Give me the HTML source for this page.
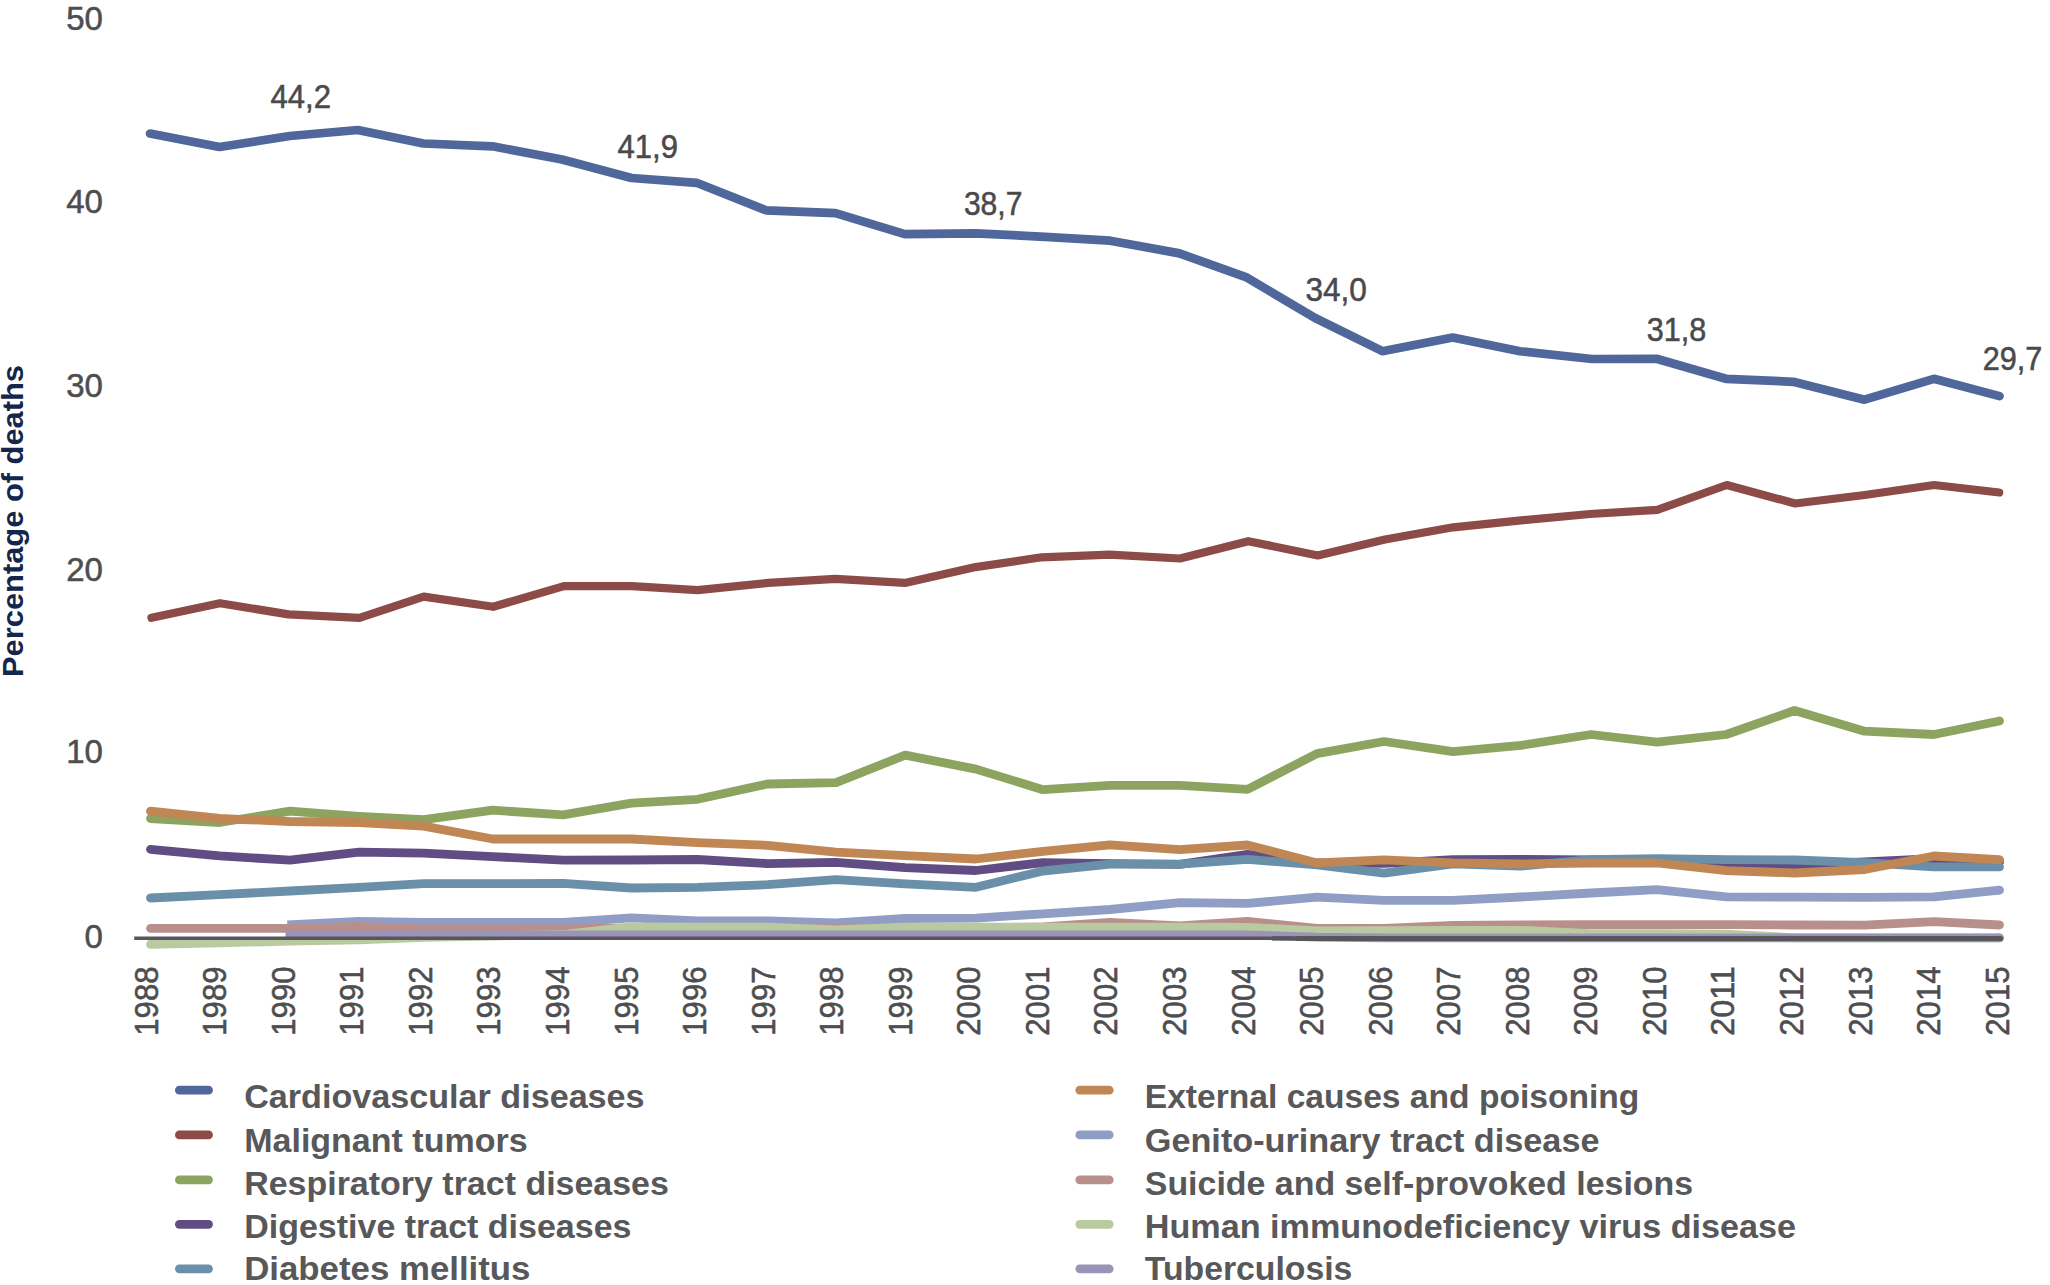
<!DOCTYPE html>
<html lang="en">
<head>
<meta charset="utf-8">
<title>Percentage of deaths by cause, 1988-2015</title>
<style>
html,body{margin:0;padding:0;background:#ffffff;}
body{width:2050px;height:1285px;overflow:hidden;}
svg{display:block;}
text{font-family:"Liberation Sans",sans-serif;}
.tick{font-size:33px;fill:#4e4e50;stroke:#4e4e50;stroke-width:0.55px;}
.xt{font-size:32.6px;fill:#4e4e50;stroke:#4e4e50;stroke-width:0.55px;}
.dl{font-size:32.5px;fill:#4a4a4c;stroke:#4a4a4c;stroke-width:0.55px;}
.leg{font-size:32.5px;font-weight:bold;fill:#58585a;}
.ytitle{font-size:30px;font-weight:bold;fill:#14264b;}
</style>
</head>
<body>
<svg width="2050" height="1285" viewBox="0 0 2050 1285">
<rect width="2050" height="1285" fill="#ffffff"/>

<g fill="none" stroke-linejoin="round">
<polyline stroke="#4f679b" stroke-width="8.7" stroke-linecap="round" points="150.0,133.5 219.5,147.0 289.7,136.0 357.8,130.0 423.5,143.5 492.3,146.3 562.0,159.5 631.5,178.0 696.6,182.8 766.0,210.3 835.5,213.1 904.8,234.2 976.0,233.3 1045.0,236.8 1110.2,240.7 1179.5,253.4 1245.9,277.1 1315.1,318.0 1382.4,351.2 1452.7,337.6 1520.0,351.2 1592.0,359.0 1656.6,358.8 1725.9,378.8 1793.3,381.8 1864.5,399.7 1933.9,378.8 1999.5,396.1"/>
<polyline stroke="#8c4b46" stroke-width="8.2" stroke-linecap="round" points="151.5,617.8 220.0,603.2 288.5,614.4 359.5,617.8 423.7,596.6 493.2,606.8 563.9,586.1 631.7,586.1 697.6,590.2 768.3,582.9 835.4,578.8 904.9,582.9 975.6,567.1 1041.5,557.3 1109.5,554.7 1180.0,558.5 1248.3,541.2 1317.8,555.4 1385.0,539.5 1453.2,527.3 1521.0,520.3 1590.2,514.0 1657.3,509.8 1726.8,485.0 1795.1,503.5 1864.8,495.0 1934.1,485.0 1999.2,492.5"/>
<polyline stroke="#8da461" stroke-width="8.8" stroke-linecap="round" points="150.5,818.5 219.7,822.5 290.0,811.2 359.0,816.3 423.6,819.7 492.8,810.2 563.0,814.9 631.5,803.2 697.5,799.3 767.5,784.0 836.0,782.7 905.2,755.1 976.0,769.1 1043.0,789.7 1110.0,785.4 1179.8,785.4 1247.5,789.3 1317.0,753.6 1384.0,741.5 1453.0,751.6 1520.8,745.4 1591.0,734.5 1657.0,742.1 1726.3,734.5 1794.5,710.5 1864.6,731.2 1934.0,734.5 1999.5,721.0"/>
<polyline stroke="#5f4d83" stroke-width="8.8" stroke-linecap="round" points="150.5,849.3 219.7,855.9 290.0,860.2 359.0,852.2 423.6,853.2 492.8,856.6 563.0,860.2 631.5,860.0 697.5,859.5 767.5,863.6 836.0,862.4 905.2,867.6 976.0,870.5 1043.0,862.6 1110.0,863.7 1179.8,864.3 1247.5,854.3 1317.0,863.0 1384.0,863.3 1453.0,859.6 1520.8,859.4 1591.0,860.0 1657.0,860.0 1726.3,864.0 1794.5,865.0 1864.6,862.0 1934.0,858.6 1999.5,862.0"/>
<polyline stroke="#6a8fa9" stroke-width="8.8" stroke-linecap="round" points="150.5,898.0 219.7,894.6 290.0,891.0 359.0,887.3 423.6,883.7 492.8,883.7 563.0,883.4 631.5,888.0 697.5,887.3 767.5,884.7 836.0,879.6 905.2,883.8 976.0,887.3 1043.0,871.0 1110.0,864.1 1179.8,864.1 1247.5,859.4 1317.0,864.9 1384.0,873.2 1453.0,863.9 1520.8,866.0 1591.0,859.7 1657.0,858.6 1726.3,859.7 1794.5,860.0 1864.6,862.6 1934.0,866.9 1999.5,866.9"/>
<polyline stroke="#c08653" stroke-width="8.8" stroke-linecap="round" points="150.5,811.2 219.7,818.5 290.0,821.5 359.0,822.5 423.6,826.2 492.8,839.0 563.0,839.0 631.5,839.0 697.5,842.6 767.5,845.3 836.0,852.2 905.2,855.6 976.0,859.0 1043.0,851.3 1110.0,844.8 1179.8,849.6 1247.5,845.0 1317.0,862.9 1384.0,859.8 1453.0,862.9 1520.8,864.0 1591.0,863.0 1657.0,863.0 1726.3,870.6 1794.5,873.0 1864.6,869.5 1934.0,856.0 1999.5,859.7"/>
<polyline stroke="#909ec5" stroke-width="8.8" stroke-linecap="butt" points="287.3,924.8 359.0,921.5 423.6,922.3 492.8,922.3 563.0,922.3 631.5,917.8 697.5,921.0 767.5,921.0 836.0,922.8 905.2,918.5 976.0,918.1 1043.0,913.8 1110.0,909.5 1179.8,902.7 1247.5,903.4 1317.0,897.2 1384.0,900.3 1453.0,900.3 1520.8,897.0 1591.0,893.0 1657.0,889.6 1726.3,896.8 1794.5,897.2 1864.6,897.4 1934.0,896.8 1999.5,890.2"/>
<circle cx="1999.5" cy="890.2" r="4.4" fill="#909ec5" stroke="none"/>
<polyline stroke="#b98f8c" stroke-width="8.8" stroke-linecap="round" points="150.5,928.3 219.7,928.3 290.0,928.3 359.0,926.5 423.6,928.8 492.8,928.8 563.0,928.8 631.5,928.0 697.5,928.0 767.5,928.0 836.0,928.0 905.2,928.0 976.0,928.0 1043.0,927.0 1110.0,922.5 1179.8,926.0 1247.5,921.5 1317.0,928.5 1384.0,928.5 1453.0,925.5 1520.8,924.8 1591.0,924.7 1657.0,924.7 1726.3,924.7 1794.5,925.0 1864.6,925.1 1934.0,921.6 1999.5,925.0"/>
<polyline stroke="#b9caa1" stroke-width="8.8" stroke-linecap="round" points="150.5,944.3 219.7,942.8 290.0,941.2 359.0,939.8 423.6,937.4 492.8,936.1 563.0,934.5 631.5,926.9 697.5,927.2 767.5,927.2 836.0,930.0 905.2,927.2 976.0,927.2 1043.0,927.2 1110.0,927.2 1179.8,927.2 1247.5,927.3 1317.0,931.0 1384.0,930.7 1453.0,930.3 1520.8,930.3 1591.0,933.6 1657.0,933.6 1726.3,934.1 1794.5,937.8 1864.6,937.8 1934.0,937.8 1999.5,937.8"/>
<polyline stroke="#9c93b8" stroke-width="8.8" stroke-linecap="butt" points="285.5,935.0 359.0,935.0 423.6,935.0 492.8,935.0 563.0,935.0 631.5,935.0 697.5,935.0 767.5,935.0 836.0,935.0 905.2,935.0 976.0,935.0 1043.0,935.0 1110.0,935.0 1179.8,935.0 1247.5,935.0 1317.0,937.2 1384.0,937.8 1453.0,937.8 1520.8,937.8 1591.0,937.8 1657.0,937.8 1726.3,937.8 1794.5,937.8 1864.6,937.8 1934.0,937.8 1999.5,937.8"/>
<circle cx="1999.5" cy="937.8" r="4.4" fill="#9c93b8" stroke="none"/>
</g>
<line x1="134.2" y1="938.25" x2="1292" y2="938.25" stroke="#57575b" stroke-width="3.7"/>
<line x1="1272" y1="938.4" x2="1300" y2="938.4" stroke="#57575b" stroke-width="4.4"/>
<line x1="1298" y1="938.5" x2="2000.5" y2="938.5" stroke="#57575b" stroke-width="5.2" stroke-linecap="round"/>
<text class="tick" x="102.9" y="29.5" text-anchor="end">50</text>
<text class="tick" x="102.9" y="213.2" text-anchor="end">40</text>
<text class="tick" x="102.9" y="396.6" text-anchor="end">30</text>
<text class="tick" x="102.9" y="580.7" text-anchor="end">20</text>
<text class="tick" x="102.9" y="763.3" text-anchor="end">10</text>
<text class="tick" x="102.9" y="947.5" text-anchor="end">0</text>
<text class="xt" transform="translate(157.7,1035.7) rotate(-90)" textLength="69.3" lengthAdjust="spacingAndGlyphs">1988</text>
<text class="xt" transform="translate(226.2,1035.7) rotate(-90)" textLength="69.3" lengthAdjust="spacingAndGlyphs">1989</text>
<text class="xt" transform="translate(294.8,1035.7) rotate(-90)" textLength="69.3" lengthAdjust="spacingAndGlyphs">1990</text>
<text class="xt" transform="translate(363.3,1035.7) rotate(-90)" textLength="69.3" lengthAdjust="spacingAndGlyphs">1991</text>
<text class="xt" transform="translate(431.9,1035.7) rotate(-90)" textLength="69.3" lengthAdjust="spacingAndGlyphs">1992</text>
<text class="xt" transform="translate(500.4,1035.7) rotate(-90)" textLength="69.3" lengthAdjust="spacingAndGlyphs">1993</text>
<text class="xt" transform="translate(569.0,1035.7) rotate(-90)" textLength="69.3" lengthAdjust="spacingAndGlyphs">1994</text>
<text class="xt" transform="translate(637.5,1035.7) rotate(-90)" textLength="69.3" lengthAdjust="spacingAndGlyphs">1995</text>
<text class="xt" transform="translate(706.1,1035.7) rotate(-90)" textLength="69.3" lengthAdjust="spacingAndGlyphs">1996</text>
<text class="xt" transform="translate(774.6,1035.7) rotate(-90)" textLength="69.3" lengthAdjust="spacingAndGlyphs">1997</text>
<text class="xt" transform="translate(843.2,1035.7) rotate(-90)" textLength="69.3" lengthAdjust="spacingAndGlyphs">1998</text>
<text class="xt" transform="translate(911.8,1035.7) rotate(-90)" textLength="69.3" lengthAdjust="spacingAndGlyphs">1999</text>
<text class="xt" transform="translate(980.3,1035.7) rotate(-90)" textLength="69.3" lengthAdjust="spacingAndGlyphs">2000</text>
<text class="xt" transform="translate(1048.9,1035.7) rotate(-90)" textLength="69.3" lengthAdjust="spacingAndGlyphs">2001</text>
<text class="xt" transform="translate(1117.4,1035.7) rotate(-90)" textLength="69.3" lengthAdjust="spacingAndGlyphs">2002</text>
<text class="xt" transform="translate(1186.0,1035.7) rotate(-90)" textLength="69.3" lengthAdjust="spacingAndGlyphs">2003</text>
<text class="xt" transform="translate(1254.5,1035.7) rotate(-90)" textLength="69.3" lengthAdjust="spacingAndGlyphs">2004</text>
<text class="xt" transform="translate(1323.0,1035.7) rotate(-90)" textLength="69.3" lengthAdjust="spacingAndGlyphs">2005</text>
<text class="xt" transform="translate(1391.6,1035.7) rotate(-90)" textLength="69.3" lengthAdjust="spacingAndGlyphs">2006</text>
<text class="xt" transform="translate(1460.2,1035.7) rotate(-90)" textLength="69.3" lengthAdjust="spacingAndGlyphs">2007</text>
<text class="xt" transform="translate(1528.7,1035.7) rotate(-90)" textLength="69.3" lengthAdjust="spacingAndGlyphs">2008</text>
<text class="xt" transform="translate(1597.2,1035.7) rotate(-90)" textLength="69.3" lengthAdjust="spacingAndGlyphs">2009</text>
<text class="xt" transform="translate(1665.8,1035.7) rotate(-90)" textLength="69.3" lengthAdjust="spacingAndGlyphs">2010</text>
<text class="xt" transform="translate(1734.3,1035.7) rotate(-90)" textLength="69.3" lengthAdjust="spacingAndGlyphs">2011</text>
<text class="xt" transform="translate(1802.9,1035.7) rotate(-90)" textLength="69.3" lengthAdjust="spacingAndGlyphs">2012</text>
<text class="xt" transform="translate(1871.5,1035.7) rotate(-90)" textLength="69.3" lengthAdjust="spacingAndGlyphs">2013</text>
<text class="xt" transform="translate(1940.0,1035.7) rotate(-90)" textLength="69.3" lengthAdjust="spacingAndGlyphs">2014</text>
<text class="xt" transform="translate(2008.5,1035.7) rotate(-90)" textLength="69.3" lengthAdjust="spacingAndGlyphs">2015</text>
<text class="dl" x="270.5" y="107.6" textLength="60.5" lengthAdjust="spacingAndGlyphs">44,2</text>
<text class="dl" x="617.6" y="157.6" textLength="60.4" lengthAdjust="spacingAndGlyphs">41,9</text>
<text class="dl" x="963.9" y="215.4" textLength="58.5" lengthAdjust="spacingAndGlyphs">38,7</text>
<text class="dl" x="1305.4" y="300.5" textLength="61.4" lengthAdjust="spacingAndGlyphs">34,0</text>
<text class="dl" x="1646.8" y="340.7" textLength="59.5" lengthAdjust="spacingAndGlyphs">31,8</text>
<text class="dl" x="1982.7" y="369.8" textLength="59.6" lengthAdjust="spacingAndGlyphs">29,7</text>
<text class="ytitle" transform="translate(22.9,677) rotate(-90)" textLength="312" lengthAdjust="spacingAndGlyphs">Percentage of deaths</text>
<line x1="179.4" y1="1090.2" x2="208.5" y2="1090.2" stroke="#4f679b" stroke-width="8.8" stroke-linecap="round"/>
<text class="leg" x="244.2" y="1108.3" textLength="400.4" lengthAdjust="spacingAndGlyphs">Cardiovascular diseases</text>
<line x1="179.4" y1="1134.9" x2="208.5" y2="1134.9" stroke="#8c4b46" stroke-width="8.8" stroke-linecap="round"/>
<text class="leg" x="244.2" y="1151.6" textLength="283.4" lengthAdjust="spacingAndGlyphs">Malignant tumors</text>
<line x1="179.4" y1="1179.9" x2="208.5" y2="1179.9" stroke="#8da461" stroke-width="8.8" stroke-linecap="round"/>
<text class="leg" x="244.2" y="1195.2" textLength="424.7" lengthAdjust="spacingAndGlyphs">Respiratory tract diseases</text>
<line x1="179.4" y1="1224.3" x2="208.5" y2="1224.3" stroke="#5f4d83" stroke-width="8.8" stroke-linecap="round"/>
<text class="leg" x="244.2" y="1237.7" textLength="387.3" lengthAdjust="spacingAndGlyphs">Digestive tract diseases</text>
<line x1="179.4" y1="1268.8" x2="208.5" y2="1268.8" stroke="#6a8fa9" stroke-width="8.8" stroke-linecap="round"/>
<text class="leg" x="244.2" y="1280.1" textLength="286.3" lengthAdjust="spacingAndGlyphs">Diabetes mellitus</text>
<line x1="1079.8" y1="1090.2" x2="1109.2" y2="1090.2" stroke="#c08653" stroke-width="8.8" stroke-linecap="round"/>
<text class="leg" x="1144.8" y="1108.3" textLength="494.5" lengthAdjust="spacingAndGlyphs">External causes and poisoning</text>
<line x1="1079.8" y1="1134.9" x2="1109.2" y2="1134.9" stroke="#909ec5" stroke-width="8.8" stroke-linecap="round"/>
<text class="leg" x="1144.8" y="1151.6" textLength="454.7" lengthAdjust="spacingAndGlyphs">Genito-urinary tract disease</text>
<line x1="1079.8" y1="1179.9" x2="1109.2" y2="1179.9" stroke="#b98f8c" stroke-width="8.8" stroke-linecap="round"/>
<text class="leg" x="1144.8" y="1195.2" textLength="548.3" lengthAdjust="spacingAndGlyphs">Suicide and self-provoked lesions</text>
<line x1="1079.8" y1="1224.3" x2="1109.2" y2="1224.3" stroke="#b9caa1" stroke-width="8.8" stroke-linecap="round"/>
<text class="leg" x="1144.8" y="1237.7" textLength="651.3" lengthAdjust="spacingAndGlyphs">Human immunodeficiency virus disease</text>
<line x1="1079.8" y1="1268.8" x2="1109.2" y2="1268.8" stroke="#9c93b8" stroke-width="8.8" stroke-linecap="round"/>
<text class="leg" x="1144.8" y="1280.1" textLength="207.6" lengthAdjust="spacingAndGlyphs">Tuberculosis</text>
</svg>
</body>
</html>
